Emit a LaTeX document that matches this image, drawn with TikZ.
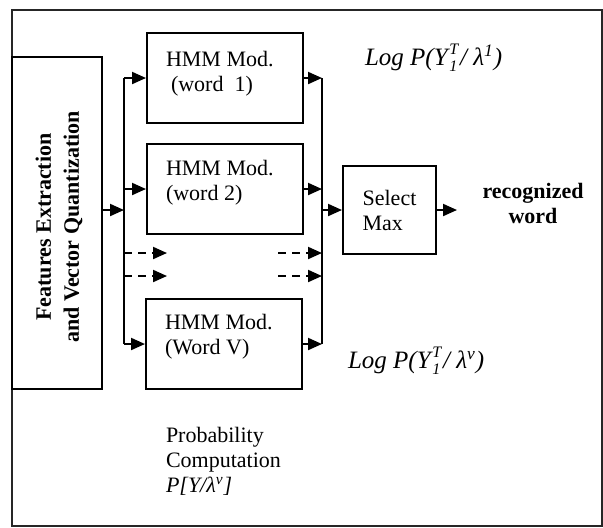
\documentclass[tikz,border=0pt]{standalone}
\usepackage{fontspec}
\setmainfont{Liberation Serif}
\usetikzlibrary{positioning, arrows.meta, calc}
\newcommand{\supsub}[2]{\kern0.8pt{\footnotesize\rlap{\raisebox{-3pt}{#1}}\raisebox{5.5pt}{#2}}\kern1pt}

\begin{document}
\begin{tikzpicture}[x=0.5pt, y=-0.5pt, font=\fontsize{11}{12.5}\selectfont, line width=1pt,
  >={Triangle[length=7pt,width=6pt]},
  box/.style={draw, rectangle, inner sep=0pt},
  hmmbox/.style={box, minimum width=78pt, minimum height=45pt},
  lbl/.style={inner sep=0pt, align=left},
  loglbl/.style={lbl, anchor=base west, font=\fontsize{12.5}{14}\selectfont\itshape},
  dasharrow/.style={->, dash pattern=on 4pt off 3pt}]
  \useasboundingbox (0,0) rectangle (603,527);
  \draw[line width=0.8pt, black!85] (12,10) rectangle (602,526);

  \node[box, minimum width=45pt, minimum height=166pt] (feat) at (57,223) {};
  \node[lbl, align=center, rotate=90, font=\fontsize{11}{14}\selectfont\bfseries] (feattext) at (59,227) {Features Extraction\\and Vector Quantization};

  \node[hmmbox] (hmmA) at (225,78) {};
  \node[hmmbox] (hmmB) at (225,189) {};
  \node[hmmbox] (hmmV) at (224,344) {};
  \node[lbl, anchor=north west] (hmmAtext) at ([shift={(19,18)}]hmmA.north west) {HMM Mod.\\\hspace{2.5pt}(word\ \ 1)};
  \node[lbl, anchor=north west] (hmmBtext) at ([shift={(19,16)}]hmmB.north west) {HMM Mod.\\(word 2)};
  \node[lbl, anchor=north west] (hmmVtext) at ([shift={(19,15)}]hmmV.north west) {HMM Mod.\\(Word V)};

  \node[box, minimum width=46.5pt, minimum height=44pt, align=left] (selmax) at (389.5,210) {Select\\Max};
  \node[lbl, align=center, font=\fontsize{11}{12.5}\selectfont\bfseries] (recog) at (533,203) {recognized\\word};

  \node[loglbl] (logA) at (364,65) {Log P(Y\supsub{1}{T}/ λ\textsuperscript{1})};
  \node[loglbl] (logV) at (347,368) {Log P(Y\supsub{1}{T}/ λ\textsuperscript{v})};
  \node[lbl, anchor=north west] (probc) at (165,426) {Probability\\Computation\\\textit{P[Y/λ\textsuperscript{v}]}};

  \coordinate (busL) at (124,210);
  \coordinate (busR) at (322,210);
  \coordinate (out) at (457,210);
  \coordinate (dashL1) at (167,253);
  \coordinate (dashL2) at (167,276);
  \coordinate (dashR1) at (278,253);
  \coordinate (dashR2) at (278,276);

  % buses
  \draw (busL |- hmmA.west) -- (busL |- hmmV.west);
  \draw (busR |- hmmA.east) -- (busR |- hmmV.east);

  \path[->]
    (feat.east |- busL) edge (busL)
    (busL |- hmmA.west) edge (hmmA.west)
    (busL |- hmmB.west) edge (hmmB.west)
    (busL |- hmmV.west) edge (hmmV.west)
    (hmmA.east) edge (busR |- hmmA.east)
    (hmmB.east) edge (busR |- hmmB.east)
    (hmmV.east) edge (busR |- hmmV.east)
    (busR) edge (selmax.west)
    (selmax.east) edge (out);
  \path
    (busL |- dashL1) edge[dasharrow] (dashL1)
    (busL |- dashL2) edge[dasharrow] (dashL2)
    (dashR1) edge[dasharrow] (busR |- dashR1)
    (dashR2) edge[dasharrow] (busR |- dashR2);
\end{tikzpicture}
\end{document}
